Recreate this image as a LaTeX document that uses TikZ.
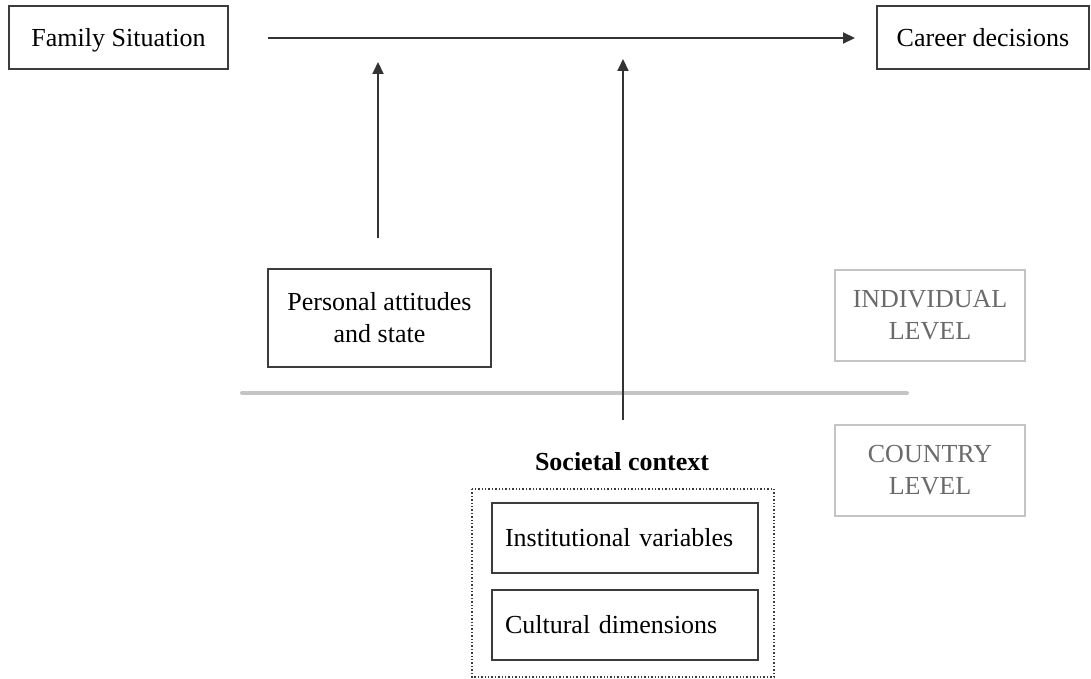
\documentclass[tikz,border=0pt]{standalone}
\usepackage{fontspec}
\setmainfont{Liberation Serif}
\usetikzlibrary{arrows.meta}
\definecolor{boxline}{HTML}{3C3C3C}
\definecolor{arrowc}{HTML}{333333}
\definecolor{lvlline}{HTML}{C4C4C4}
\definecolor{lvltext}{HTML}{6A6A6A}
\tikzset{
  mainbox/.style={draw=boxline, line width=2pt, inner sep=0pt, align=center,
    font=\fontsize{26}{32}\selectfont, text=black},
  leftbox/.style={draw=boxline, line width=2pt, inner xsep=13pt, inner ysep=0pt,
    text width=240pt, align=left, font=\fontsize{26}{32}\selectfont, text=black},
  lvlbox/.style={draw=lvlline, line width=2pt, inner sep=0pt, align=center,
    font=\fontsize{26}{32}\selectfont, text=lvltext, minimum width=190pt, minimum height=91pt},
  arr/.style={draw=arrowc, line width=2pt, -{Triangle[length=12pt,width=11pt]}},
}
\begin{document}
\begin{tikzpicture}[x=1pt,y=-1pt]
\useasboundingbox (0,0) rectangle (1091,679);

\node[mainbox, minimum width=219pt, minimum height=63pt, text depth=0pt] (family) at (118.5,37.5) {Family Situation};
\node[mainbox, minimum width=212pt, minimum height=63pt, text depth=0pt] (career) at (983,37.5) {Career decisions};

\node[mainbox, minimum width=223pt, minimum height=98pt] (personal) at (379.5,318) {Personal attitudes\\and state};

\node[lvlbox] (indiv) at (930,315.5) {INDIVIDUAL\\LEVEL};
\node[lvlbox] (country) at (930,470.5) {COUNTRY\\LEVEL};

\coordinate (sepL) at (242,393);
\coordinate (sepR) at (907,393);
\draw[lvlline, line width=4pt, line cap=round] (sepL) -- (sepR);

\node[font=\fontsize{26}{32}\selectfont\bfseries] (soctitle) at (622,462) {Societal context};
\draw[boxline, line width=1.4pt, dotted] (472,489) rectangle (774,677);
\node[leftbox, minimum height=70pt] (inst) at (625,538) {Institutional variables};
\node[leftbox, minimum height=70pt] (cult) at (625,625) {Cultural dimensions};

\coordinate (hA) at (268,38);
\coordinate (hB) at (855,38);
\draw[arr] (hA) -- (hB);

\coordinate (v1A) at (378,238);
\coordinate (v1B) at (378,62);
\draw[arr] (v1A) -- (v1B);

\coordinate (v2A) at (623,420);
\coordinate (v2B) at (623,59);
\draw[arr] (v2A) -- (v2B);
\end{tikzpicture}
\end{document}
